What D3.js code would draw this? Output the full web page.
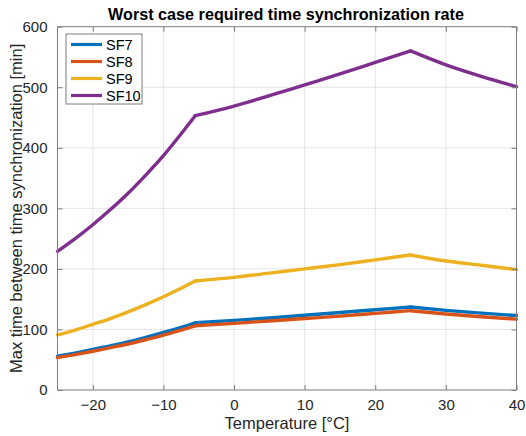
<!DOCTYPE html>
<html>
<head>
<meta charset="utf-8">
<script src="https://cdn.jsdelivr.net/npm/d3@7"></script>
<style>
  html, body { margin: 0; padding: 0; background: #fff; }
  svg { display: block; font-family: "Liberation Sans", Arial, Helvetica, sans-serif; }
</style>
</head>
<body>
<svg id="chart" width="526" height="436"></svg>
<script>
// Temperature samples [°C]
const temperature = [-25, -22.5, -20, -17.5, -15, -12.5, -10, -7.5, -5.5, 0, 5, 10, 15, 20, 25, 30, 35, 40];
// Temperatures where the curves change regime (slope breaks)
const breakpoints = [-5.5, 25];

// Max time between synchronizations [min] per spreading factor
const sf7  = [56, 61, 67, 73, 79.5, 87, 95, 103.5, 111, 115, 119, 123.5, 128, 132.5, 137, 131.5, 127, 123];
const sf8  = [53.5, 58.5, 64, 70, 76, 83, 90.5, 99, 106, 110, 114, 118, 122, 126.5, 131, 125.5, 121, 117];
const sf9  = [91, 99, 108.5, 118, 129, 141, 154, 168, 180, 186, 193, 200, 207, 215, 223, 213, 206, 199];
const sf10 = [229, 250, 273, 298, 325, 355, 387, 423, 453, 469, 486, 504, 522, 541, 560, 537, 518, 501];

const seriesNames  = ["SF7", "SF8", "SF9", "SF10"];
const seriesValues = [sf7, sf8, sf9, sf10];
const seriesColors = ["#0072BD", "#D95319", "#EDB120", "#7E2F8E"];

const xTicks = [-20, -10, 0, 10, 20, 30, 40];
const yTicks = [0, 100, 200, 300, 400, 500, 600];

const titleText  = "Worst case required time synchronization rate";
const xLabelText = "Temperature [°C]";
const yLabelText = "Max time between time synchronization [min]";

const svg = d3.select("#chart");
const plot = { left: 57.5, right: 516.5, top: 26.7, bottom: 390 };

const x = d3.scaleLinear().domain([-25, 40]).range([plot.left, plot.right]);
const y = d3.scaleLinear().domain([0, 600]).range([plot.bottom, plot.top]);

const axisColor = "#7d7d7d";
const textColor = "#262626";

// grid
const grid = svg.append("g");
grid.selectAll("line.gx").data(xTicks.filter(t => t > -25 && t < 40)).join("line")
  .attr("x1", d => x(d)).attr("x2", d => x(d))
  .attr("y1", plot.top).attr("y2", plot.bottom)
  .attr("stroke", "#e5e5e5").attr("stroke-width", 1);
grid.selectAll("line.gy").data(yTicks.filter(t => t > 0 && t < 600)).join("line")
  .attr("x1", plot.left).attr("x2", plot.right)
  .attr("y1", d => y(d)).attr("y2", d => y(d))
  .attr("stroke", "#e5e5e5").attr("stroke-width", 1);

// series: each regime drawn as its own smooth segment so the kinks stay sharp
const line = d3.line().x(d => x(d[0])).y(d => y(d[1])).curve(d3.curveMonotoneX);
const edges = [-Infinity, ...breakpoints, Infinity];
const lines = svg.append("g");
seriesValues.forEach((vals, k) => {
  const pts = temperature.map((t, i) => [t, vals[i]]);
  for (let s = 0; s < edges.length - 1; s++) {
    const seg = pts.filter(p => p[0] >= edges[s] && p[0] <= edges[s + 1]);
    lines.append("path")
      .datum(seg)
      .attr("d", line)
      .attr("fill", "none")
      .attr("stroke", seriesColors[k])
      .attr("stroke-width", 3.4)
      .attr("stroke-linecap", "round")
      .attr("stroke-linejoin", "round");
  }
});

// axes (ticks pointing inward, box on)
const tickLen = 5;
const xAxisB = d3.axisBottom(x).tickValues(xTicks).tickSize(-tickLen).tickPadding(9).tickFormat(d3.format("d"));
const xAxisT = d3.axisTop(x).tickValues(xTicks).tickSize(-tickLen).tickFormat("");
const yAxisL = d3.axisLeft(y).tickValues(yTicks).tickSize(-tickLen).tickPadding(10).tickFormat(d3.format("d"));
const yAxisR = d3.axisRight(y).tickValues(yTicks).tickSize(-tickLen).tickFormat("");

function styleAxis(g) {
  g.select(".domain").attr("stroke", axisColor).attr("stroke-width", 1);
  g.selectAll(".tick line").attr("stroke", axisColor);
  g.selectAll(".tick text").attr("fill", textColor).attr("font-size", 15)
    .attr("font-family", "'Liberation Sans', Arial, sans-serif");
}
svg.append("g").attr("transform", `translate(0,${plot.bottom})`).call(xAxisB).call(styleAxis)
  .call(g => g.select(".domain").attr("d", `M${plot.left},0H${plot.right}`));
svg.append("g").attr("transform", `translate(0,${plot.top})`).call(xAxisT).call(styleAxis)
  .call(g => g.select(".domain").attr("d", `M${plot.left},0H${plot.right}`));
svg.append("g").attr("transform", `translate(${plot.left},0)`).call(yAxisL).call(styleAxis)
  .call(g => g.select(".domain").attr("d", `M0,${plot.top}V${plot.bottom}`));
svg.append("g").attr("transform", `translate(${plot.right},0)`).call(yAxisR).call(styleAxis)
  .call(g => g.select(".domain").attr("d", `M0,${plot.top}V${plot.bottom}`));

// title and labels
svg.append("text")
  .attr("x", (plot.left + plot.right) / 2 - 1).attr("y", 19.5)
  .attr("text-anchor", "middle").attr("font-weight", "bold").attr("font-size", 16.2)
  .attr("fill", "#000").text(titleText);

svg.append("text")
  .attr("x", (plot.left + plot.right) / 2).attr("y", 429)
  .attr("text-anchor", "middle").attr("font-size", 16.5)
  .attr("fill", textColor).text(xLabelText);

svg.append("text")
  .attr("transform", `translate(22,${(plot.top + plot.bottom) / 2}) rotate(-90)`)
  .attr("text-anchor", "middle").attr("font-size", 16.5)
  .attr("fill", textColor).text(yLabelText);

// legend
const legend = svg.append("g").attr("transform", "translate(66,34)");
legend.append("rect")
  .attr("x", 0).attr("y", 0).attr("width", 76).attr("height", 70)
  .attr("fill", "#fff").attr("stroke", axisColor).attr("stroke-width", 1);
seriesNames.forEach((name, k) => {
  const cy = 10.5 + k * 17;
  legend.append("line")
    .attr("x1", 5).attr("x2", 36).attr("y1", cy).attr("y2", cy)
    .attr("stroke", seriesColors[k]).attr("stroke-width", 3.2);
  legend.append("text")
    .attr("x", 40).attr("y", cy).attr("dy", "0.35em")
    .attr("font-size", 14.5).attr("fill", "#000").text(name);
});
</script>
</body>
</html>
